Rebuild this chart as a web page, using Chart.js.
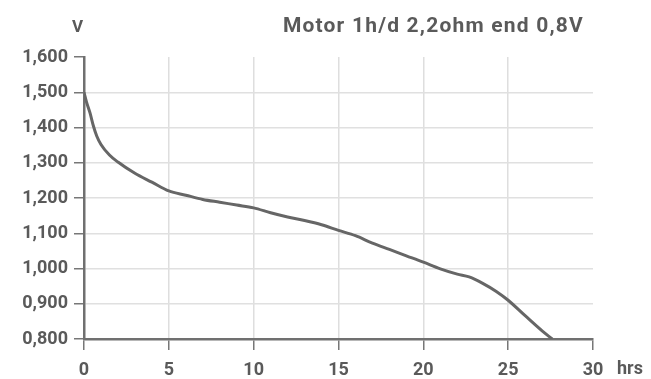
<!DOCTYPE html>
<html>
<head>
<meta charset="utf-8">
<script src="https://cdn.jsdelivr.net/npm/chart.js@4"></script>
<style>
  html, body { margin: 0; padding: 0; background: #fff; }
  #wrap { position: relative; width: 651px; height: 379px; }
  canvas { position: absolute; left: 0; top: 0; }
  .lbl { position: absolute; font-family: Roboto, "DejaVu Sans", sans-serif; font-weight: bold; color: #5a5a5a; white-space: nowrap; line-height: 1; }
  #title { right: 67px; top: 15px; font-size: 21px; letter-spacing: 1.2px; }
  #yunit { left: 72px; top: 18px; font-size: 17px; }
  #xunit { left: 617px; top: 359px; font-size: 18px; }
</style>
</head>
<body>
<div id="wrap">
  <canvas id="c" width="651" height="379"></canvas>
  <div class="lbl" id="title">Motor 1h/d 2,2ohm end 0,8V</div>
  <div class="lbl" id="yunit">V</div>
  <div class="lbl" id="xunit">hrs</div>
</div>
<script>
const hours   = [0, 0.15, 0.35, 0.55, 0.75, 1.0, 1.5, 2.0, 3.0, 4.0, 5.0, 6.0, 7.0, 8.0, 9.0, 10.0, 11.0, 12.0, 13.0, 14.0, 15.0, 16.0, 17.0, 18.0, 19.0, 20.0, 21.0, 22.0, 22.7, 23.5, 24.3, 25.0, 26.0, 27.0, 27.6];
const voltage = [1.500, 1.472, 1.442, 1.405, 1.376, 1.352, 1.322, 1.302, 1.270, 1.245, 1.220, 1.208, 1.196, 1.188, 1.180, 1.172, 1.158, 1.146, 1.136, 1.124, 1.108, 1.093, 1.072, 1.054, 1.036, 1.018, 0.999, 0.984, 0.976, 0.958, 0.935, 0.910, 0.866, 0.823, 0.800];
const yMin = 0.8, yMax = 1.6, yStep = 0.05;
const xMin = 0, xMax = 30, xStep = 5;

const points = hours.map((h, i) => ({ x: h, y: voltage[i] }));
const isMajor = v => Math.abs(Math.round(v * 10) - v * 10) < 1e-6;
const FONT = { family: 'Roboto, "DejaVu Sans", sans-serif', size: 18, weight: 'bold' };

new Chart(document.getElementById('c'), {
  type: 'scatter',
  data: {
    datasets: [{
      data: points,
      showLine: true,
      borderColor: '#666666',
      borderWidth: 3,
      pointRadius: 0,
      tension: 0.3,
      cubicInterpolationMode: 'monotone',
      fill: false
    }]
  },
  options: {
    responsive: false,
    animation: false,
    layout: { padding: { left: 0, right: 58, top: 57, bottom: 0 } },
    plugins: { legend: { display: false }, tooltip: { enabled: false }, title: { display: false } },
    scales: {
      x: {
        type: 'linear', min: xMin, max: xMax,
        afterFit: s => { s.height = 40; },
        ticks: { stepSize: xStep, color: '#5a5a5a', font: FONT, padding: 10, maxRotation: 0 },
        grid: {
          color: ctx => (ctx.tick && (ctx.tick.value === xMin || ctx.tick.value === xMax)) ? 'rgba(0,0,0,0)' : '#dedede',
          tickColor: '#777777', tickLength: 11, lineWidth: 1.5
        },
        border: { color: '#707070', width: 2.5 }
      },
      y: {
        type: 'linear', min: yMin, max: yMax,
        afterFit: s => { s.width = 84; },
        ticks: {
          stepSize: yStep, color: '#5a5a5a', font: FONT, padding: 6,
          callback: v => isMajor(v) ? v.toFixed(3).replace('.', ',') : ''
        },
        grid: {
          color: ctx => (ctx.tick && Math.abs(ctx.tick.value - yMax) < 1e-6) ? 'rgba(0,0,0,0)' : '#e0e0e0',
          tickColor: ctx => (ctx.tick && isMajor(ctx.tick.value)) ? '#777777' : 'rgba(0,0,0,0)',
          tickLength: 10, lineWidth: 1.5
        },
        border: { color: '#707070', width: 2.5 }
      }
    }
  }
});
</script>
</body>
</html>
